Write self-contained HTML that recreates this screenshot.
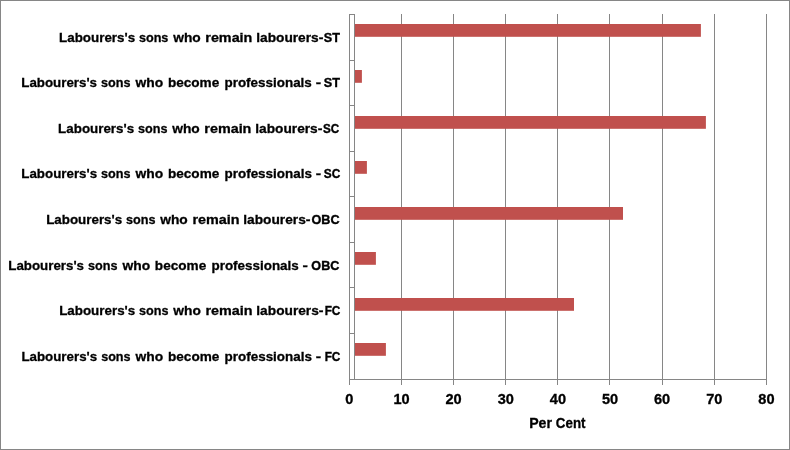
<!DOCTYPE html>
<html lang="en">
<head>
<meta charset="utf-8">
<title>Per Cent chart</title>
<style>
html,body{margin:0;padding:0;background:#fff;}
body{width:790px;height:450px;overflow:hidden;}
svg{display:block;}
text{font-family:"Liberation Sans",sans-serif;font-weight:bold;fill:#000;}
</style>
</head>
<body>
<svg width="790" height="450" viewBox="0 0 790 450">
<rect x="0" y="0" width="790" height="450" fill="#fff"/>
<rect x="0.5" y="0.5" width="789" height="449" fill="none" stroke="#868686" stroke-width="1"/>
<g fill="#868686" shape-rendering="crispEdges">
<rect x="349" y="14" width="1" height="371"/>
<rect x="401" y="14" width="1" height="371"/>
<rect x="453" y="14" width="1" height="371"/>
<rect x="505" y="14" width="1" height="371"/>
<rect x="557" y="14" width="1" height="371"/>
<rect x="609" y="14" width="1" height="371"/>
<rect x="662" y="14" width="1" height="371"/>
<rect x="714" y="14" width="1" height="371"/>
<rect x="766" y="14" width="1" height="371"/>
<rect x="354" y="14" width="1" height="365"/>
<rect x="349" y="379" width="418" height="1"/>
<rect x="349" y="14" width="6" height="1"/>
<rect x="349" y="60" width="6" height="1"/>
<rect x="349" y="105" width="6" height="1"/>
<rect x="349" y="151" width="6" height="1"/>
<rect x="349" y="196" width="6" height="1"/>
<rect x="349" y="242" width="6" height="1"/>
<rect x="349" y="287" width="6" height="1"/>
<rect x="349" y="333" width="6" height="1"/>
</g>
<g fill="#C0504D">
<rect x="355" y="24" width="345.9" height="12.8"/>
<rect x="355" y="70" width="6.9" height="12.8"/>
<rect x="355" y="116" width="350.9" height="12.8"/>
<rect x="355" y="161" width="11.9" height="12.8"/>
<rect x="355" y="207" width="268.0" height="12.8"/>
<rect x="355" y="252" width="20.9" height="12.8"/>
<rect x="355" y="298" width="219.0" height="12.8"/>
<rect x="355" y="343" width="30.9" height="12.8"/>
</g>
<g font-size="13.3" transform="matrix(1 0 0.0004 1 0 0)">
<text y="42"><tspan x="59.06" textLength="76.04" lengthAdjust="spacingAndGlyphs" stroke="#000" stroke-width="0.3">Labourers's</tspan> <tspan x="138.91" textLength="29.46" lengthAdjust="spacingAndGlyphs" stroke="#000" stroke-width="0.3">sons</tspan> <tspan x="173.19" textLength="27.50" lengthAdjust="spacingAndGlyphs" stroke="#000" stroke-width="0.3">who</tspan> <tspan x="205.30" textLength="47.04" lengthAdjust="spacingAndGlyphs" stroke="#000" stroke-width="0.3">remain</tspan> <tspan x="256.19" textLength="62.52" lengthAdjust="spacingAndGlyphs" stroke="#000" stroke-width="0.3">labourers</tspan><tspan x="318.70" textLength="4.72" lengthAdjust="spacingAndGlyphs" stroke="#000" stroke-width="0.3">-</tspan><tspan x="323.74" textLength="16.10" lengthAdjust="spacingAndGlyphs" stroke="#000" stroke-width="0.4">ST</tspan></text>
<text y="87"><tspan x="21.26" textLength="75.74" lengthAdjust="spacingAndGlyphs" stroke="#000" stroke-width="0.3">Labourers's</tspan> <tspan x="101.01" textLength="29.46" lengthAdjust="spacingAndGlyphs" stroke="#000" stroke-width="0.3">sons</tspan> <tspan x="135.44" textLength="27.65" lengthAdjust="spacingAndGlyphs" stroke="#000" stroke-width="0.3">who</tspan> <tspan x="167.85" textLength="51.36" lengthAdjust="spacingAndGlyphs" stroke="#000" stroke-width="0.3">become</tspan> <tspan x="224.46" textLength="87.34" lengthAdjust="spacingAndGlyphs" stroke="#000" stroke-width="0.3">professionals</tspan> <tspan x="315.62" textLength="5.37" lengthAdjust="spacingAndGlyphs" stroke="#000" stroke-width="0.3">-</tspan> <tspan x="323.74" textLength="16.10" lengthAdjust="spacingAndGlyphs" stroke="#000" stroke-width="0.4">ST</tspan></text>
<text y="133"><tspan x="58.06" textLength="76.04" lengthAdjust="spacingAndGlyphs" stroke="#000" stroke-width="0.3">Labourers's</tspan> <tspan x="137.91" textLength="29.46" lengthAdjust="spacingAndGlyphs" stroke="#000" stroke-width="0.3">sons</tspan> <tspan x="172.19" textLength="27.50" lengthAdjust="spacingAndGlyphs" stroke="#000" stroke-width="0.3">who</tspan> <tspan x="204.30" textLength="47.04" lengthAdjust="spacingAndGlyphs" stroke="#000" stroke-width="0.3">remain</tspan> <tspan x="255.19" textLength="62.52" lengthAdjust="spacingAndGlyphs" stroke="#000" stroke-width="0.3">labourers</tspan><tspan x="317.70" textLength="4.72" lengthAdjust="spacingAndGlyphs" stroke="#000" stroke-width="0.3">-</tspan><tspan x="322.97" textLength="16.15" lengthAdjust="spacingAndGlyphs" stroke="#000" stroke-width="0.4">SC</tspan></text>
<text y="178"><tspan x="21.26" textLength="75.74" lengthAdjust="spacingAndGlyphs" stroke="#000" stroke-width="0.3">Labourers's</tspan> <tspan x="101.01" textLength="29.46" lengthAdjust="spacingAndGlyphs" stroke="#000" stroke-width="0.3">sons</tspan> <tspan x="135.44" textLength="27.65" lengthAdjust="spacingAndGlyphs" stroke="#000" stroke-width="0.3">who</tspan> <tspan x="167.85" textLength="51.36" lengthAdjust="spacingAndGlyphs" stroke="#000" stroke-width="0.3">become</tspan> <tspan x="224.46" textLength="87.34" lengthAdjust="spacingAndGlyphs" stroke="#000" stroke-width="0.3">professionals</tspan> <tspan x="315.62" textLength="5.37" lengthAdjust="spacingAndGlyphs" stroke="#000" stroke-width="0.3">-</tspan> <tspan x="323.76" textLength="16.47" lengthAdjust="spacingAndGlyphs" stroke="#000" stroke-width="0.4">SC</tspan></text>
<text y="224"><tspan x="46.06" textLength="76.04" lengthAdjust="spacingAndGlyphs" stroke="#000" stroke-width="0.3">Labourers's</tspan> <tspan x="125.91" textLength="29.46" lengthAdjust="spacingAndGlyphs" stroke="#000" stroke-width="0.3">sons</tspan> <tspan x="160.19" textLength="27.50" lengthAdjust="spacingAndGlyphs" stroke="#000" stroke-width="0.3">who</tspan> <tspan x="192.30" textLength="47.04" lengthAdjust="spacingAndGlyphs" stroke="#000" stroke-width="0.3">remain</tspan> <tspan x="243.19" textLength="62.52" lengthAdjust="spacingAndGlyphs" stroke="#000" stroke-width="0.3">labourers</tspan><tspan x="305.70" textLength="4.72" lengthAdjust="spacingAndGlyphs" stroke="#000" stroke-width="0.3">-</tspan><tspan x="311.38" textLength="28.06" lengthAdjust="spacingAndGlyphs" stroke="#000" stroke-width="0.4">OBC</tspan></text>
<text y="270"><tspan x="8.16" textLength="75.74" lengthAdjust="spacingAndGlyphs" stroke="#000" stroke-width="0.3">Labourers's</tspan> <tspan x="87.91" textLength="29.46" lengthAdjust="spacingAndGlyphs" stroke="#000" stroke-width="0.3">sons</tspan> <tspan x="122.34" textLength="27.65" lengthAdjust="spacingAndGlyphs" stroke="#000" stroke-width="0.3">who</tspan> <tspan x="154.75" textLength="51.36" lengthAdjust="spacingAndGlyphs" stroke="#000" stroke-width="0.3">become</tspan> <tspan x="211.36" textLength="87.34" lengthAdjust="spacingAndGlyphs" stroke="#000" stroke-width="0.3">professionals</tspan> <tspan x="302.52" textLength="5.37" lengthAdjust="spacingAndGlyphs" stroke="#000" stroke-width="0.3">-</tspan> <tspan x="311.28" textLength="27.96" lengthAdjust="spacingAndGlyphs" stroke="#000" stroke-width="0.4">OBC</tspan></text>
<text y="315"><tspan x="59.06" textLength="76.04" lengthAdjust="spacingAndGlyphs" stroke="#000" stroke-width="0.3">Labourers's</tspan> <tspan x="138.91" textLength="29.46" lengthAdjust="spacingAndGlyphs" stroke="#000" stroke-width="0.3">sons</tspan> <tspan x="173.19" textLength="27.50" lengthAdjust="spacingAndGlyphs" stroke="#000" stroke-width="0.3">who</tspan> <tspan x="205.30" textLength="47.04" lengthAdjust="spacingAndGlyphs" stroke="#000" stroke-width="0.3">remain</tspan> <tspan x="256.19" textLength="62.52" lengthAdjust="spacingAndGlyphs" stroke="#000" stroke-width="0.3">labourers</tspan><tspan x="318.70" textLength="4.72" lengthAdjust="spacingAndGlyphs" stroke="#000" stroke-width="0.3">-</tspan><tspan x="324.51" textLength="15.71" lengthAdjust="spacingAndGlyphs" stroke="#000" stroke-width="0.4">FC</tspan></text>
<text y="361"><tspan x="21.26" textLength="75.74" lengthAdjust="spacingAndGlyphs" stroke="#000" stroke-width="0.3">Labourers's</tspan> <tspan x="101.01" textLength="29.46" lengthAdjust="spacingAndGlyphs" stroke="#000" stroke-width="0.3">sons</tspan> <tspan x="135.44" textLength="27.65" lengthAdjust="spacingAndGlyphs" stroke="#000" stroke-width="0.3">who</tspan> <tspan x="167.85" textLength="51.36" lengthAdjust="spacingAndGlyphs" stroke="#000" stroke-width="0.3">become</tspan> <tspan x="224.46" textLength="87.34" lengthAdjust="spacingAndGlyphs" stroke="#000" stroke-width="0.3">professionals</tspan> <tspan x="315.62" textLength="5.37" lengthAdjust="spacingAndGlyphs" stroke="#000" stroke-width="0.3">-</tspan> <tspan x="324.51" textLength="15.71" lengthAdjust="spacingAndGlyphs" stroke="#000" stroke-width="0.4">FC</tspan></text>
</g>
<g font-size="14" text-anchor="middle" stroke="#000" stroke-width="0.3">
<text x="349.4" y="404" textLength="8.1" lengthAdjust="spacingAndGlyphs">0</text>
<text x="401.5" y="404" textLength="16.2" lengthAdjust="spacingAndGlyphs">10</text>
<text x="453.6" y="404" textLength="16.2" lengthAdjust="spacingAndGlyphs">20</text>
<text x="505.8" y="404" textLength="16.2" lengthAdjust="spacingAndGlyphs">30</text>
<text x="557.9" y="404" textLength="16.2" lengthAdjust="spacingAndGlyphs">40</text>
<text x="610.0" y="404" textLength="16.2" lengthAdjust="spacingAndGlyphs">50</text>
<text x="662.1" y="404" textLength="16.2" lengthAdjust="spacingAndGlyphs">60</text>
<text x="714.3" y="404" textLength="16.2" lengthAdjust="spacingAndGlyphs">70</text>
<text x="766.4" y="404" textLength="16.2" lengthAdjust="spacingAndGlyphs">80</text>
</g>
<text y="428" font-size="13.8" stroke="#000" stroke-width="0.3" transform="matrix(1 0 0.0004 1 0 0)"><tspan x="529.01" textLength="22.76" lengthAdjust="spacingAndGlyphs">Per</tspan> <tspan x="555.70" textLength="29.61" lengthAdjust="spacingAndGlyphs">Cent</tspan></text>
</svg>
</body>
</html>
